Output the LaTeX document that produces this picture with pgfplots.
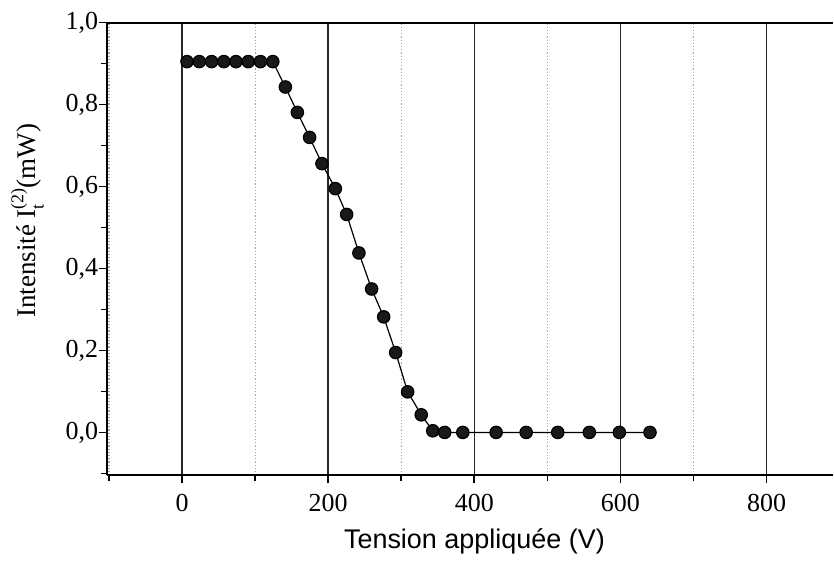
\documentclass[border=0pt]{standalone}
\usepackage{pgfplots}
\pgfplotsset{compat=1.18}
\usetikzlibrary{calc}
\usepackage{fontspec}
\setmainfont{Liberation Serif}
\newfontfamily\arialf{Liberation Sans}
\begin{document}
\begin{tikzpicture}
\begin{axis}[
  name=ax,
  scale only axis,
  width=363.35pt, height=226.65pt,
  xmin=-102.5, xmax=891,
  ymin=-0.105, ymax=1.0,
  axis x line*=box, axis y line*=left,
  axis line style={-, line width=1pt, black},
  tick pos=left,
  tick align=outside,
  xtick={0,200,400,600,800},
  minor xtick={-100,100,300,500,700},
  ytick={0,0.2,0.4,0.6,0.8,1.0},
  minor ytick={-0.1,0.1,0.3,0.5,0.7,0.9},
  major tick length=4pt, minor tick length=3pt,
  every tick/.style={black, line width=0.8pt},
  xmajorgrids, xminorgrids,
  major x grid style={black!85, line width=0.7pt},
  minor x grid style={gray!70, line width=0.6pt, densely dotted},
  /pgf/number format/assume math mode=true,
  tick label style={font=\fontsize{13}{15}\selectfont},
  yticklabel style={xshift=3pt, /pgf/number format/.cd, fixed, fixed zerofill, precision=1, use comma},
  xticklabel style={yshift=-2pt, /pgf/number format/.cd, fixed, precision=0, 1000 sep={}},
  ylabel={Intensité I\rlap{\raisebox{-0.3em}{\fontsize{9}{10}\selectfont t}}\raisebox{0.45em}{\fontsize{9}{10}\selectfont(2)}(mW)},
  ylabel style={font=\fontsize{13.5}{15}\selectfont, at={($(rel axis cs:0,0.5625)+(-40pt,0pt)$)}, anchor=center},
  xlabel={Tension appliquée (V)},
  xlabel style={font=\arialf\fontsize{13.5}{15}\selectfont, at={(rel axis cs:0.506,0)}, anchor=base, yshift=-36.7pt},
  clip=false,
]
\addplot[black, line width=0.6pt, mark=*, mark size=3.1pt, mark options={fill=black!90}]
coordinates {
(6.8,0.905) (23.6,0.905) (40.4,0.905) (57.2,0.905) (73.8,0.905) (90.6,0.905) (107.4,0.905) (124.2,0.905)
(141.4,0.843) (157.8,0.781) (174.6,0.720) (191.5,0.656) (209.8,0.595) (225.3,0.532)
(242.1,0.438) (259.5,0.350) (276,0.282) (292.4,0.195) (308.8,0.099) (327.4,0.043)
(343.2,0.004) (359.5,0.0) (384.3,0.0) (429.9,0.0) (471,0.0) (514.2,0.0) (557.5,0.0) (598.6,0.0) (640.5,0.0)
};
\end{axis}
\path (ax.south west) ++(-53.65pt,-41.65pt);
\path (ax.north east) ++(0,11.35pt);
\end{tikzpicture}
\end{document}
